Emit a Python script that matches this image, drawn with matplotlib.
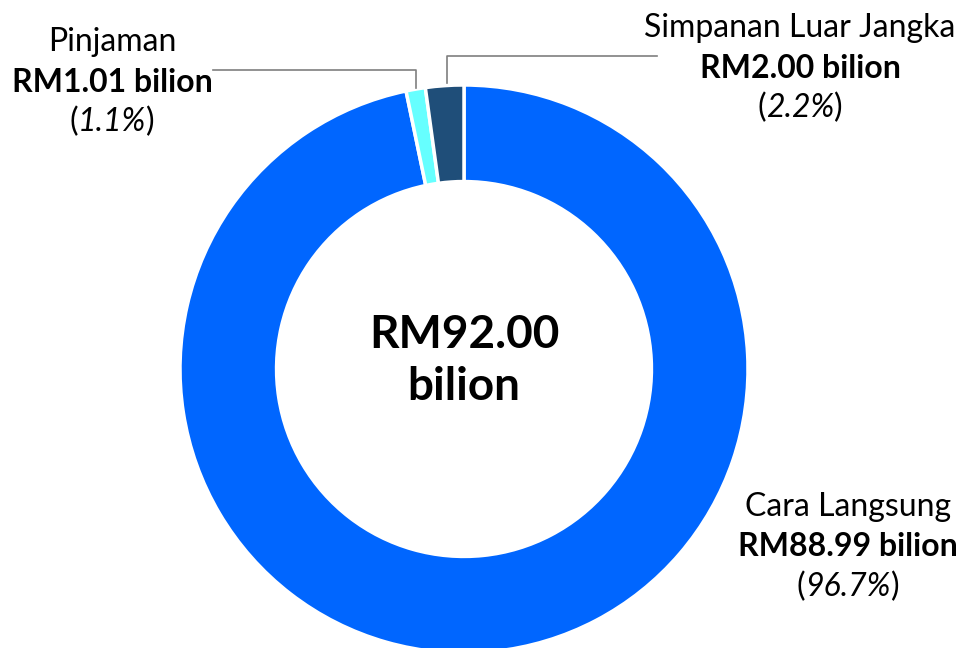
import matplotlib
matplotlib.use("Agg")
import matplotlib.pyplot as plt
from matplotlib import font_manager as fm
from matplotlib.transforms import offset_copy

# data
labels = ["Cara Langsung", "Pinjaman", "Simpanan Luar Jangka"]
amounts = [88.99, 1.01, 2.00]
shares = ["96.7%", "1.1%", "2.2%"]
colors = ["#0066FF", "#66FFFF", "#1F4E79"]
total_text = "RM92.00\nbilion"

plt.rcParams["font.family"] = ["Lato", "DejaVu Sans"]


def italic_family():
    for fam in ["Lato", "Open Sans", "Noto Sans", "Roboto", "DejaVu Sans"]:
        try:
            p = fm.findfont(fm.FontProperties(family=fam, style="italic"),
                            fallback_to_default=False)
        except Exception:
            continue
        if "italic" in p.lower() or "oblique" in p.lower():
            return fam
    return "DejaVu Sans"


ITALIC = italic_family()

W, H = 963, 648
fig = plt.figure(figsize=(W / 100, H / 100), dpi=100)
ax = fig.add_axes([0, 0, 1, 1])

cx, cy, r = 464, H - 369, 284
ax.pie(amounts, colors=colors, startangle=90, counterclock=False,
       center=(cx, cy), radius=r,
       wedgeprops=dict(width=r * 0.34, edgecolor="white", linewidth=2.5))
ax.set_xlim(0, W)
ax.set_ylim(0, H)
ax.set_aspect("equal")
ax.axis("off")

# centre total
ax.text(cx, cy + 8, total_text, ha="center", va="center", fontsize=33,
        fontweight="bold", linespacing=1.3, color="black")

# leader lines (pixel coords from top)
line_col = "#7F7F7F"
ax.plot([213, 416, 416], [H - 70, H - 70, H - 88], color=line_col, lw=1.2)
ax.plot([657, 447, 447], [H - 56, H - 56, H - 83], color=line_col, lw=1.2)

renderer = fig.canvas.get_renderer()
fs = 23


def width_px(s, **kw):
    t = ax.text(0, 0, s, fontsize=fs, **kw)
    w = t.get_window_extent(renderer).width
    t.remove()
    return w


def share_text(x, y, share):
    # "(" upright, number italic, ")" upright, centred as a whole
    parts = [("(", {}), (share, {"style": "italic", "family": ITALIC}), (")", {})]
    widths = [width_px(s, **kw) for s, kw in parts]
    left = -sum(widths) / 2
    for (s, kw), w in zip(parts, widths):
        tr = offset_copy(ax.transData, fig=fig, x=left, y=0, units="dots")
        ax.text(x, y, s, ha="left", va="center", fontsize=fs, transform=tr, **kw)
        left += w


# segment labels: (x centre, first-line y from top)
label_pos = {0: (848, 507), 1: (112, 42), 2: (800, 28)}
for i, (x, y) in label_pos.items():
    ax.text(x, H - y, labels[i], ha="center", va="center", fontsize=fs)
    ax.text(x, H - y - 40, f"RM{amounts[i]:.2f} bilion", ha="center",
            va="center", fontsize=fs, fontweight="bold")
    share_text(x, H - y - 80, shares[i])

fig.savefig("out.png", dpi=100)
